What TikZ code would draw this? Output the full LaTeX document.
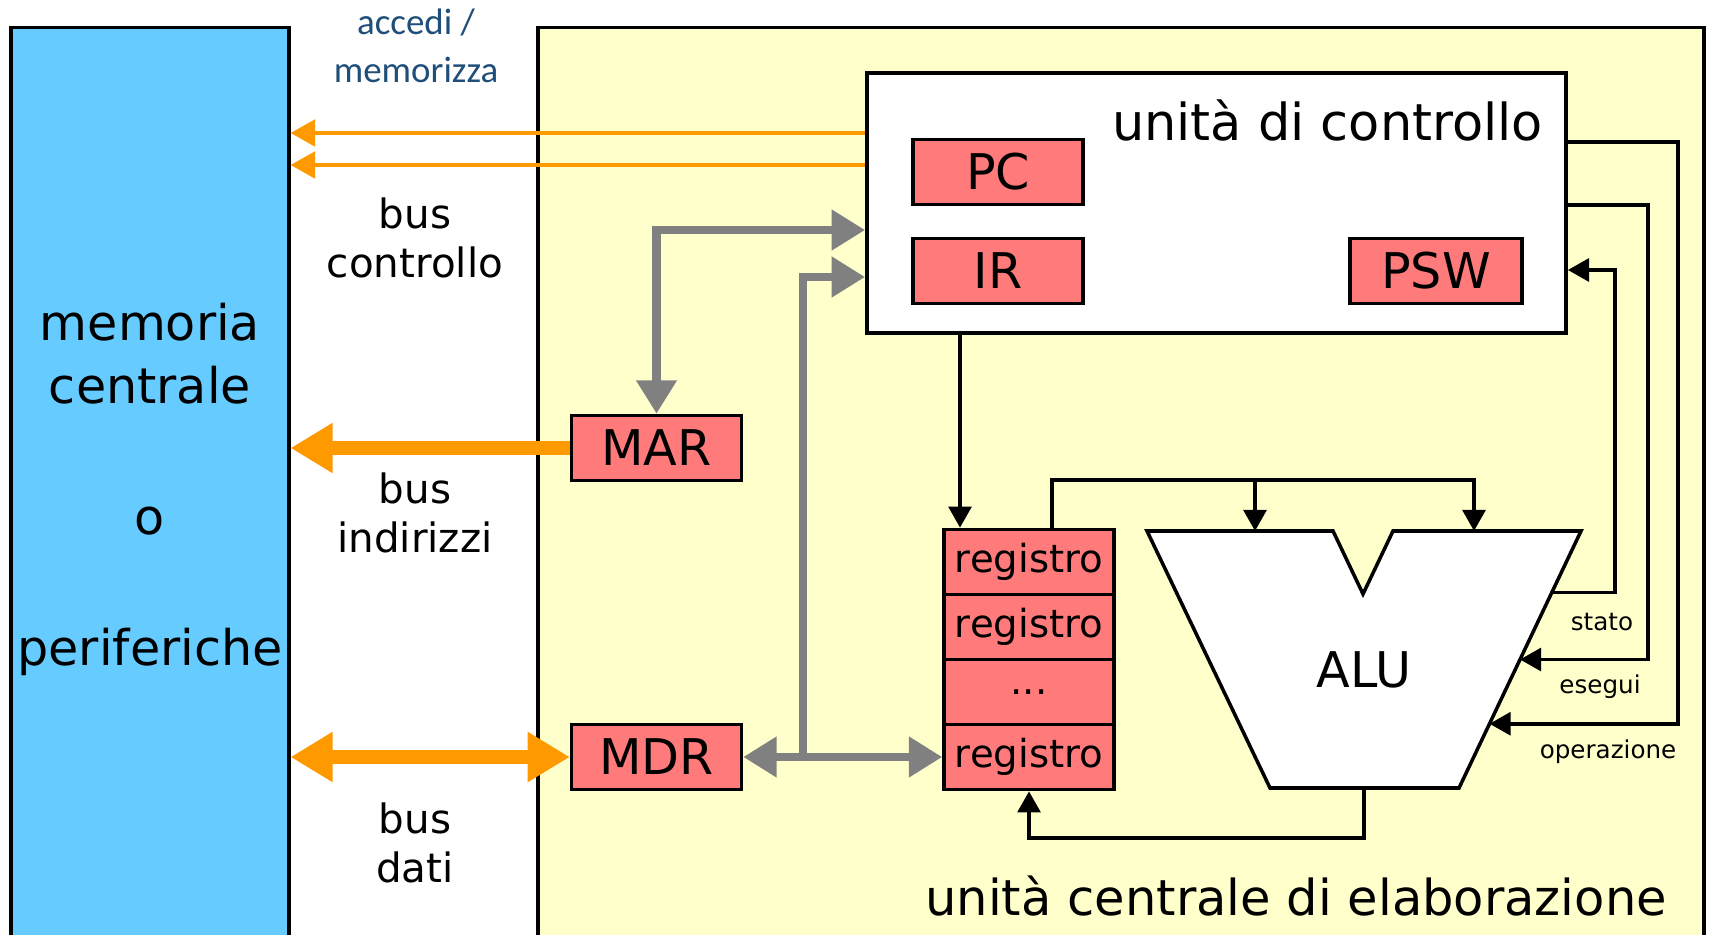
\documentclass[tikz,border=0pt]{standalone}
\usepackage{fontspec}
\setmainfont{DejaVu Sans}
\newfontfamily\notefont{Carlito}
\usepackage{tikz}
\usetikzlibrary{arrows.meta}
\usetikzlibrary{calc}
\definecolor{memblue}{HTML}{66CCFF}
\definecolor{cpuyellow}{HTML}{FFFFCC}
\definecolor{regred}{HTML}{FF7B7B}
\definecolor{busorange}{HTML}{FF9900}
\definecolor{busgray}{HTML}{808080}
\definecolor{noteblue}{HTML}{1F4E79}

\tikzset{
  box/.style={draw, line width=2pt, inner sep=0pt},
  reg/.style={box, fill=regred, minimum width=96.7pt, minimum height=37pt,
    font=\fontsize{28}{34}\selectfont},
  regrow/.style={box, fill=regred, minimum width=96.7pt, minimum height=37.1pt,
    font=\fontsize{22}{26}\selectfont},
  ctrlbus/.style={draw=busorange, line width=2.4pt, >={Triangle[length=14pt,width=15pt]}},
  bigbus/.style={draw=busorange, line width=8.5pt, >={Triangle[length=24pt,width=27pt]}},
  graybus/.style={draw=busgray, line width=5pt, >={Triangle[length=19pt,width=22pt]}},
  sig/.style={draw, line width=2pt, >={Triangle[length=12pt,width=13pt]}},
  buslabel/.style={align=center, font=\fontsize{23}{28}\selectfont},
  siglabel/.style={font=\fontsize{14}{16}\selectfont}
}

\begin{document}
\begin{tikzpicture}[x=0.02cm, y=-0.02cm]
  \useasboundingbox (0,0) rectangle (1709,935);
  \fill[white] (0,0) rectangle (1709,935);

  % blocchi principali
  \node[box, fill=memblue, minimum width=158pt, minimum height=522pt] (mem) at (150,486) {};
  \node[align=center, font=\fontsize{28}{36}\selectfont] (memtext) at (150,489)
    {memoria\\centrale\\[38.5pt]o\\[38.5pt]periferiche};
  \node[box, fill=cpuyellow, minimum width=663.5pt, minimum height=522pt] (cpu) at (1121,486) {};
  \node[anchor=east, font=\fontsize{28.2}{34}\selectfont] (cputext) at (1673,896) {unità centrale di elaborazione};

  % unita' di controllo
  \node[box, fill=white, minimum width=398pt, minimum height=148pt] (cu) at (1216.5,203) {};
  \node[anchor=east, font=\fontsize{29}{34}\selectfont] (cutext) at (1549,120) {unità di controllo};
  \node[reg] (pc) at (998,172) {PC};
  \node[reg] (ir) at (998,271) {IR};
  \node[reg, minimum width=98pt] (psw) at (1436,271) {PSW};

  \node[reg] (mar) at (656.5,448) {MAR};
  \node[reg] (mdr) at (656.5,757) {MDR};

  % registri
  \node[regrow] (r1) at (1029,562) {registro};
  \node[regrow] (r2) at (1029,627) {registro};
  \node[regrow] (r3) at (1029,692) {...};
  \node[regrow] (r4) at (1029,757) {registro};

  % ALU
  \coordinate (alutl) at (1147,531);
  \coordinate (alunl) at (1333,531);
  \coordinate (alutip) at (1363,594);
  \coordinate (alunr) at (1393,531);
  \coordinate (alutr) at (1581,531);
  \coordinate (alubr) at (1459,788);
  \coordinate (alubl) at (1270,788);
  \draw[box, fill=white] (alutl) -- (alunl) -- (alutip) -- (alunr) -- (alutr)
    -- (alubr) -- (alubl) -- cycle;
  \node[font=\fontsize{28}{34}\selectfont] (alu) at (1364,670) {ALU};
  \coordinate (aluinA) at (1255,531);
  \coordinate (aluinB) at (1474,531);
  \coordinate (aluout) at (1364,788);
  \coordinate (instato) at ($(alutr)!0.24!(alubr)$);
  \coordinate (inesegui) at ($(alutr)!0.5!(alubr)$);
  \coordinate (inoper) at ($(alutr)!0.75!(alubr)$);

  % bus
  \draw[ctrlbus, ->] (cu.west |- 0,133) -- (mem.east |- 0,133);
  \draw[ctrlbus, ->] (cu.west |- 0,165) -- (mem.east |- 0,165);
  \draw[bigbus, ->] (mar.west) -- (mar.west -| mem.east);
  \draw[bigbus, <->] (mem.east |- mdr.west) -- (mdr.west);

  \node[align=center, text=noteblue, font=\notefont\fontsize{21}{27}\selectfont] (note) at (416,46) {accedi /\\memorizza};
  \node[buslabel] (lctrl) at (415,238) {bus\\controllo};
  \node[buslabel] (laddr) at (415,513) {bus\\indirizzi};
  \node[buslabel] (ldata) at (415,843) {bus\\dati};

  % collegamenti interni
  \draw[graybus, <->] (cu.west |- 0,230) -| (mar.north);
  \draw[graybus, <->] (mdr.east) -- (mdr.east -| r4.west);
  \draw[graybus, ->] (mdr.east -| 803,0) |- (cu.west |- 0,277);

  \draw[sig, ->] (cu.south -| 960,0) -- (r1.north -| 960,0);
  \draw[sig, ->] (r1.north -| 1052,0) |- (aluinB |- 0,480) -- (aluinB);
  \draw[sig, ->] (aluinA |- 0,480) -- (aluinA);
  \draw[sig, ->] (aluout) |- (r4.south |- 0,838) -- (r4.south);

  \draw[sig, ->] (instato) -| (1615,270) -- (cu.east |- 0,270);
  \draw[sig, ->] (cu.east |- 0,205) -| (1648,0 |- inesegui) -- (inesegui);
  \draw[sig, ->] (cu.east |- 0,142) -| (1678,0 |- inoper) -- (inoper);
  \node[siglabel] (lstato) at (1602,622) {stato};
  \node[siglabel] (lesegui) at (1600,687) {esegui};
  \node[siglabel] (loper) at (1608,752) {operazione};
\end{tikzpicture}
\end{document}
